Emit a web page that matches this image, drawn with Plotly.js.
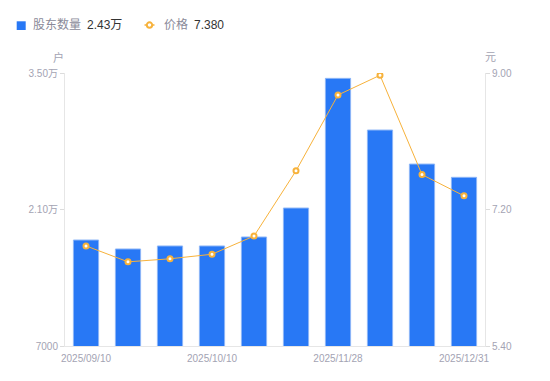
<!DOCTYPE html>
<html>
<head>
<meta charset="utf-8">
<script src="https://cdn.plot.ly/plotly-3.0.1.min.js"></script>
<style>html,body{margin:0;padding:0;background:#fff;}#chart{width:550px;height:381px;}</style>
</head>
<body>
<div id="chart"></div>
<script>
const dates = ['2025/09/10','2025/09/19','2025/09/30','2025/10/10','2025/10/20','2025/10/31','2025/11/28','2025/12/10','2025/12/19','2025/12/31'];
const holders = [17870, 16950, 17260, 17260, 18180, 21150, 34450, 29150, 25660, 24300];
const prices = [6.72, 6.51, 6.55, 6.61, 6.85, 7.71, 8.71, 8.97, 7.66, 7.38];
const xTicks = ['2025/09/10','2025/10/10','2025/11/28','2025/12/31'];
const leftTickVals = [7000, 21000, 35000];
const leftTickText = ['7000', '2.10万', '3.50万'];
const rightTickVals = [5.40, 7.20, 9.00];
const rightTickText = ['5.40', '7.20', '9.00'];
const seriesNames = ['股东数量', '价格'];
const latestLabels = ['2.43万', '7.380'];

const font = '"Liberation Sans", "Noto Sans CJK SC", sans-serif';
const tickColor = '#a3a3b3';
const barColor = '#2878f5';
const lineColor = '#f7b23b';

// pixel -> paper helpers (plot area: x 65..485, y 73..346)
const px = v => (v - 65) / 420;
const py = v => (346 - v) / 273;

const data = [
  {
    type: 'bar', x: dates, y: holders, name: seriesNames[0],
    marker: {color: barColor, line: {color: '#8db6f7', width: 1}},
    width: 0.6
  },
  {
    type: 'scatter', mode: 'lines+markers', x: dates, y: prices, yaxis: 'y2',
    name: seriesNames[1],
    line: {color: lineColor, width: 1},
    marker: {symbol: 'circle', size: 5, color: '#ffffff', line: {color: lineColor, width: 2}}
  }
];

const legendY = py(25);
const layout = {
  width: 550, height: 381,
  margin: {l: 65, r: 65, t: 73, b: 35},
  paper_bgcolor: '#fff', plot_bgcolor: '#fff',
  font: {family: font, size: 12, color: '#888'},
  showlegend: false,
  xaxis: {
    type: 'category', range: [-0.5, 9.5], tickmode: 'array', tickvals: xTicks, ticktext: xTicks,
    showgrid: false, showline: true, linecolor: '#e6e6e6', linewidth: 1,
    ticks: 'outside', ticklen: 3, tickcolor: 'rgba(0,0,0,0)',
    tickfont: {family: font, size: 10, color: tickColor}, zeroline: false, fixedrange: true
  },
  yaxis: {
    range: [7000, 35000], tickmode: 'array', tickvals: leftTickVals, ticktext: leftTickText,
    showgrid: false, showline: true, linecolor: '#e6e6e6', linewidth: 1,
    ticks: 'outside', ticklen: 4, tickcolor: '#dcdcdc',
    tickfont: {family: font, size: 10, color: tickColor}, zeroline: false
  },
  yaxis2: {
    overlaying: 'y', side: 'right', range: [5.40, 9.00], tickmode: 'array', tickvals: rightTickVals, ticktext: rightTickText,
    showgrid: false, showline: true, linecolor: '#e6e6e6', linewidth: 1,
    ticks: 'outside', ticklen: 4, tickcolor: '#dcdcdc',
    tickfont: {family: font, size: 10, color: tickColor}, zeroline: false
  },
  shapes: [
    {type: 'rect', xref: 'paper', yref: 'paper', x0: px(16.7), x1: px(25.7), y0: py(30), y1: py(21.3),
     fillcolor: barColor, line: {width: 0}},
    {type: 'line', xref: 'paper', yref: 'paper', x0: px(144.5), x1: px(154.5), y0: legendY, y1: legendY,
     line: {color: lineColor, width: 1.5}},
    {type: 'circle', xref: 'paper', yref: 'paper', x0: px(146.8), x1: px(152.2), y0: py(27.7), y1: py(22.3),
     fillcolor: '#ffffff', line: {color: lineColor, width: 2}}
  ],
  annotations: [
    {text: seriesNames[0], xref: 'paper', yref: 'paper', x: px(31), y: legendY, showarrow: false, xanchor: 'left', yanchor: 'middle', font: {family: font, size: 12, color: '#8a8a99'}},
    {text: latestLabels[0], xref: 'paper', yref: 'paper', x: px(85), y: legendY, showarrow: false, xanchor: 'left', yanchor: 'middle', font: {family: font, size: 12, color: '#333'}},
    {text: seriesNames[1], xref: 'paper', yref: 'paper', x: px(161.5), y: legendY, showarrow: false, xanchor: 'left', yanchor: 'middle', font: {family: font, size: 12, color: '#8a8a99'}},
    {text: latestLabels[1], xref: 'paper', yref: 'paper', x: px(191.5), y: legendY, showarrow: false, xanchor: 'left', yanchor: 'middle', font: {family: font, size: 12, color: '#333'}},
    {text: '户', xref: 'paper', yref: 'paper', x: px(58), y: py(57), showarrow: false, xanchor: 'center', yanchor: 'middle', font: {family: font, size: 11, color: tickColor}},
    {text: '元', xref: 'paper', yref: 'paper', x: px(490), y: py(57), showarrow: false, xanchor: 'center', yanchor: 'middle', font: {family: font, size: 11, color: tickColor}}
  ]
};

Plotly.newPlot('chart', data, layout, {displayModeBar: false, staticPlot: true});
</script>
</body>
</html>
